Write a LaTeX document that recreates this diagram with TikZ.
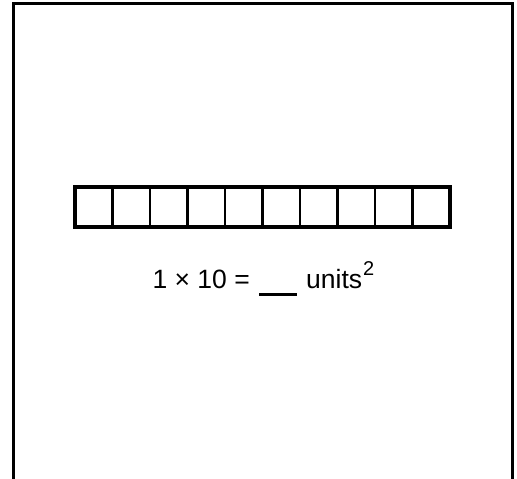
\documentclass[tikz,border=0pt]{standalone}
\usepackage{fontspec}
\setmainfont{Liberation Sans}
\begin{document}
\begin{tikzpicture}[x=1pt,y=-1pt,
  frameline/.style={line width=3pt},
  outerbox/.style={line width=3.5pt},
  cellline/.style={line width=2.5pt},
  eqtext/.style={inner sep=0pt,font=\fontsize{26.5}{30}\selectfont}]
\useasboundingbox (0,0) rectangle (517,479);
% open frame
\draw[frameline] (13.5,479) -- (13.5,3) -- (512,3) -- (512,479);
% strip of 10 unit squares
\foreach \k in {1,...,9}{
  \draw[cellline] ({75+37.5*\k},187) -- ({75+37.5*\k},227);
}
\node[outerbox,draw,minimum width=375pt,minimum height=40pt,inner sep=0pt] (strip) at (262.5,207) {};
% equation
\node[eqtext,anchor=base east] (lhs) at (250,288) {1 × 10 =};
\coordinate (blankL) at (259,294.5);
\coordinate (blankR) at (297,294.5);
\draw[line width=2.5pt] (blankL) -- (blankR);
\node[eqtext,anchor=base west] (rhs) at (306,288) {units\kern1pt\raisebox{13pt}{\fontsize{20}{22}\selectfont 2}};
\end{tikzpicture}
\end{document}
